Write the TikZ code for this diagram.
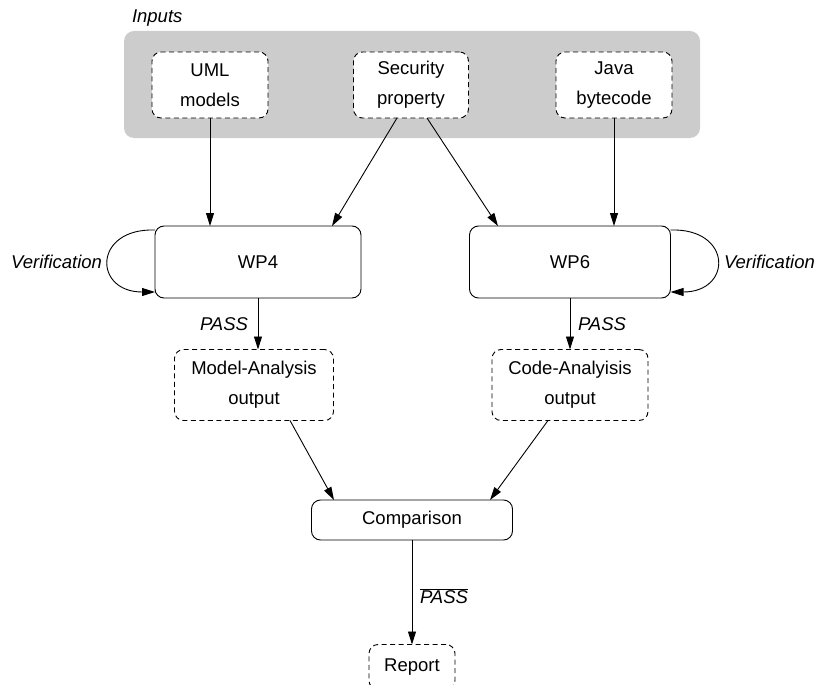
\documentclass[tikz,border=0pt]{standalone}
\usepackage{fontspec}
\setmainfont{Liberation Sans}
\usetikzlibrary{arrows.meta}
\begin{document}
\begin{tikzpicture}[x=1pt,y=-1pt,
  font=\fontsize{18.5}{30}\selectfont,
  every node/.style={inner sep=0pt, outer sep=0pt},
  solidbox/.style={draw, line width=0.9pt, rounded corners=9pt, align=center},
  dashbox/.style={draw, line width=0.9pt, rounded corners=9pt, align=center, dash pattern=on 5pt off 3.5pt, fill=white},
  arr/.style={line width=0.9pt, -{Triangle[length=13pt,width=8pt]}},
  lbl/.style={font=\fontsize{18.5}{30}\selectfont\itshape}]
\useasboundingbox (0,0) rectangle (817,685);
% input area
\node[fill=black!20, rounded corners=10pt, minimum width=576pt, minimum height=107pt] (inarea) at (412,84.5) {};
\node[lbl, anchor=west] (inlbl) at (132,18) {Inputs};
\node[dashbox, minimum width=116pt, minimum height=66pt] (uml) at (210,85) {UML\\models};
\node[dashbox, minimum width=115pt, minimum height=66pt] (sec) at (411,85) {Security\\property};
\node[dashbox, minimum width=116pt, minimum height=66pt] (java) at (614,85) {Java\\bytecode};
% work packages
\node[solidbox, minimum width=206pt, minimum height=72pt] (wp4) at (258,262) {WP4};
\node[solidbox, minimum width=201pt, minimum height=72pt] (wp6) at (570,262) {WP6};
% outputs
\node[dashbox, minimum width=159pt, minimum height=71pt] (mao) at (254,385) {Model-Analysis\\output};
\node[dashbox, minimum width=156pt, minimum height=71pt] (cao) at (570,385) {Code-Analyisis\\output};
\node[solidbox, minimum width=201pt, minimum height=40pt] (cmp) at (412,520) {Comparison};
\node[dashbox, minimum width=86pt, minimum height=45pt] (rep) at (412,667) {Report};
% connectors
\draw[arr] (uml.south) -- (uml.south |- wp4.north);
\draw[arr] ([xshift=-14pt]sec.south) -- ([xshift=74pt]wp4.north);
\draw[arr] ([xshift=16pt]sec.south) -- ([xshift=-72pt]wp6.north);
\draw[arr] (java.south) -- (java.south |- wp6.north);
\draw[arr] ([yshift=-4pt]wp4.north west) .. controls +(-62,-2) and +(-62,0) .. ([yshift=6pt]wp4.south west);
\node[lbl, anchor=east] (ver1) at (102,262) {Verification};
\draw[arr] ([yshift=-4pt]wp6.north east) .. controls +(62,-2) and +(62,0) .. ([yshift=6pt]wp6.south east);
\node[lbl, anchor=west] (ver2) at (724,262) {Verification};
\draw[arr] (wp4.south) -- node[lbl, left=10pt] {PASS} (wp4.south |- mao.north);
\draw[arr] (wp6.south) -- node[lbl, right=8pt] {PASS} (wp6.south |- cao.north);
\draw[arr] ([xshift=36pt]mao.south) -- ([xshift=-78pt]cmp.north);
\draw[arr] ([xshift=-22pt]cao.south) -- ([xshift=78pt]cmp.north);
\draw[arr] (cmp.south) -- node[right=8pt, yshift=-4pt] {$\overline{\mbox{\itshape PASS}}$} (rep.north);
\end{tikzpicture}
\end{document}
